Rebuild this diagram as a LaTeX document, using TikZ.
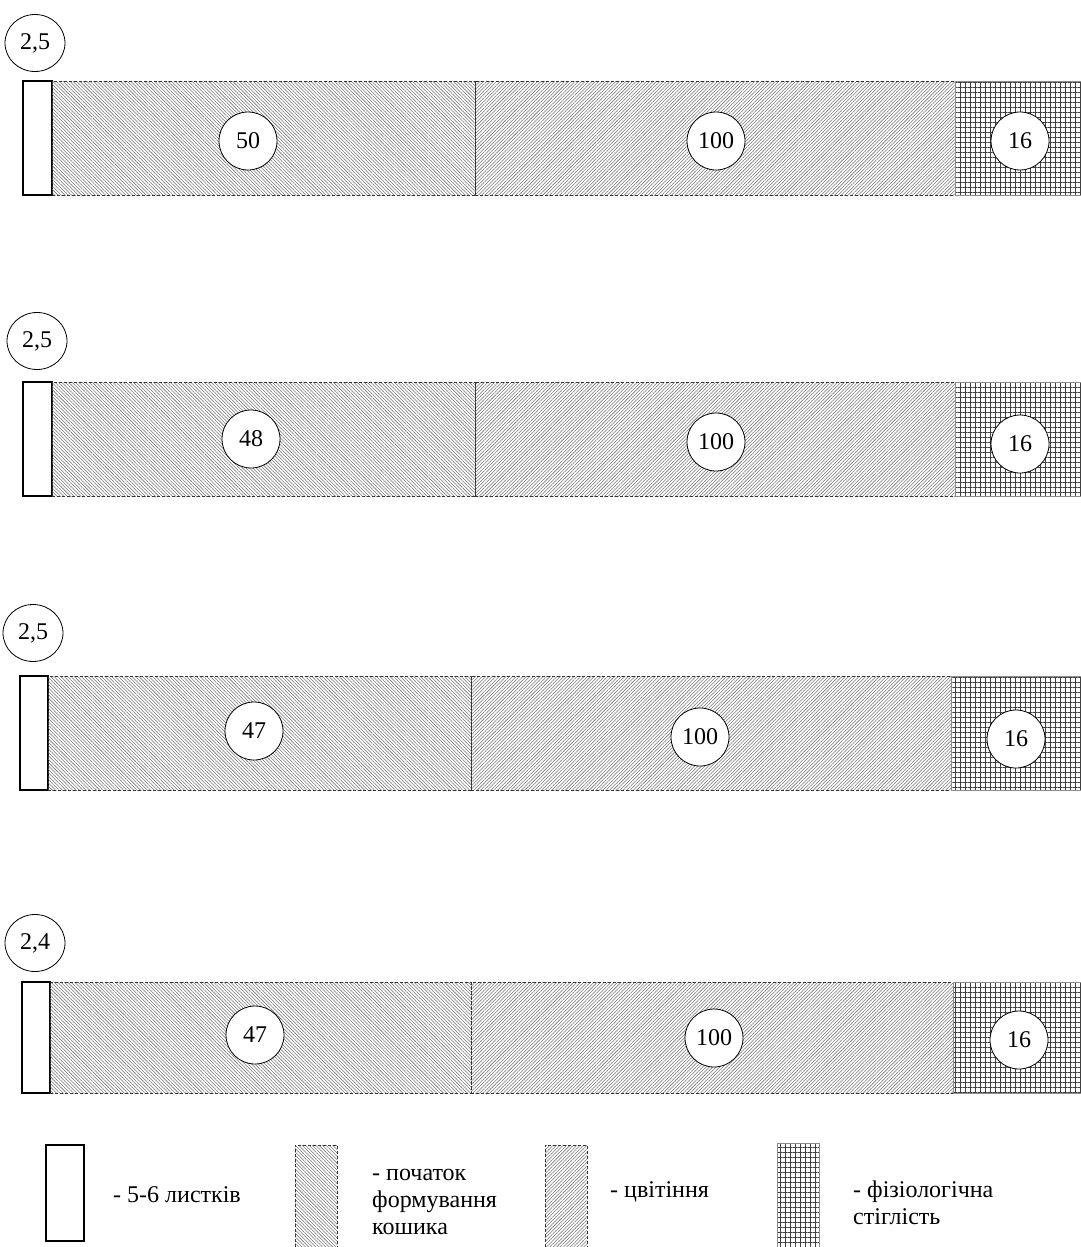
\documentclass[tikz,border=0pt]{standalone}
\usepackage{fontspec}
\setmainfont{Liberation Serif}
\usetikzlibrary{patterns.meta,positioning,shapes.geometric}

\begin{document}
\begin{tikzpicture}[
  x=1pt, y=-1pt,
  font=\fontsize{24}{27}\selectfont,
  seg/.style={inner sep=0pt, outer sep=0pt, minimum height=114pt},
  leaves/.style={seg, draw=black, line width=1.2pt, fill=white},
  budding/.style={seg, draw=black!80, line width=0.6pt, densely dashed,
    pattern={Lines[angle=-45, distance=2.4pt, line width=0.55pt]}, pattern color=black!55},
  bloom/.style={seg, draw=black!80, line width=0.6pt, densely dashed,
    pattern={Lines[angle=45, distance=2.4pt, line width=0.55pt]}, pattern color=black!55},
  ripe/.style={seg, draw=black!45, line width=0.6pt,
    pattern={Hatch[distance=5pt, line width=0.5pt]}, pattern color=black!75},
  stage/.style={ellipse, draw=black, line width=0.8pt, fill=white, inner sep=0pt,
    minimum width=60pt, minimum height=57pt},
  val/.style={circle, draw=black, line width=0.8pt, fill=white, inner sep=0pt, minimum size=58pt},
  keytext/.style={inner sep=0pt, align=left}
]
\useasboundingbox (0,0) rectangle (1080,1247);

% row 1
\node[stage] (st1) at (35,43) {2,5};
\node[leaves, minimum width=29pt, anchor=north west] (leaf1) at (23,81) {};
\node[budding, minimum width=423pt, right=0pt of leaf1] (bud1) {};
\node[bloom, minimum width=480pt, right=0pt of bud1] (bloom1) {};
\node[ripe, minimum width=130pt, right=0pt of bloom1] (ripe1) {};
\node[val] (bud1v) at (248,141) {50};
\node[val] (bloom1v) at (716,141) {100};
\node[val] (ripe1v) at (1020,141) {16};

% row 2
\node[stage] (st2) at (37,341) {2,5};
\node[leaves, minimum width=29pt, anchor=north west] (leaf2) at (23,382) {};
\node[budding, minimum width=423pt, right=0pt of leaf2] (bud2) {};
\node[bloom, minimum width=480pt, right=0pt of bud2] (bloom2) {};
\node[ripe, minimum width=130pt, right=0pt of bloom2] (ripe2) {};
\node[val] (bud2v) at (251,439) {48};
\node[val] (bloom2v) at (716,442) {100};
\node[val] (ripe2v) at (1020,444) {16};

% row 3
\node[stage] (st3) at (33,633) {2,5};
\node[leaves, minimum width=28pt, anchor=north west] (leaf3) at (20,676) {};
\node[budding, minimum width=423pt, right=0pt of leaf3] (bud3) {};
\node[bloom, minimum width=480pt, right=0pt of bud3] (bloom3) {};
\node[ripe, minimum width=135pt, right=0pt of bloom3] (ripe3) {};
\node[val] (bud3v) at (254,731) {47};
\node[val] (bloom3v) at (700,737) {100};
\node[val] (ripe3v) at (1016,739) {16};

% row 4
\node[stage] (st4) at (35,943) {2,4};
\node[leaves, minimum width=28pt, minimum height=111pt, anchor=north west] (leaf4) at (22,982) {};
\node[budding, minimum width=421pt, minimum height=111pt, right=0pt of leaf4] (bud4) {};
\node[bloom, minimum width=482pt, minimum height=111pt, right=0pt of bud4] (bloom4) {};
\node[ripe, minimum width=130pt, minimum height=111pt, right=0pt of bloom4] (ripe4) {};
\node[val] (bud4v) at (255,1035) {47};
\node[val] (bloom4v) at (714,1038) {100};
\node[val] (ripe4v) at (1019,1040) {16};

% legend
\node[leaves, minimum width=38pt, minimum height=96pt, anchor=north west] (keyleaf) at (46,1145) {};
\node[keytext, right=29pt of keyleaf, yshift=-2pt] (keyleaft) {- 5-6 листків};
\node[budding, minimum width=42pt, minimum height=102pt, anchor=north west] (keybud) at (295,1145) {};
\node[keytext, right=35pt of keybud, yshift=-6pt] (keybudt) {- початок\\формування\\кошика};
\node[bloom, minimum width=42pt, minimum height=102pt, anchor=north west] (keybloom) at (545,1145) {};
\node[keytext, right=23pt of keybloom, yshift=4pt] (keybloomt) {- цвітіння};
\node[ripe, minimum width=42pt, minimum height=104pt, anchor=north west] (keyripe) at (777,1143) {};
\node[keytext, right=34pt of keyripe, yshift=-8pt] (keyripet) {- фізіологічна\\стіглість};
\end{tikzpicture}
\end{document}
